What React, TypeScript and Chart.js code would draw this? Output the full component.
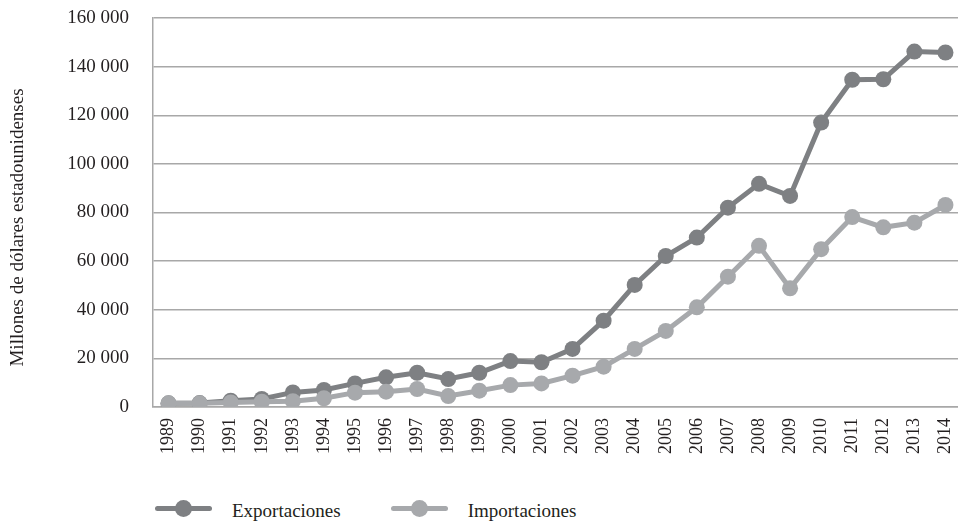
import React, { useEffect, useRef } from "react";
import { Chart, registerables } from "chart.js";

Chart.register(...registerables);

const years = [
  "1989", "1990", "1991", "1992", "1993", "1994", "1995", "1996", "1997",
  "1998", "1999", "2000", "2001", "2002", "2003", "2004", "2005", "2006",
  "2007", "2008", "2009", "2010", "2011", "2012", "2013", "2014",
];

const exportaciones = [
  1500, 1600, 2600, 3300, 6000, 7000, 9700, 12200, 14100, 11500, 14100,
  18900, 18400, 23900, 35500, 50200, 62100, 69700, 82000, 91800, 86800,
  117000, 134600, 134800, 146200, 145800,
];

const importaciones = [
  1500, 1500, 1900, 2200, 2400, 3600, 5900, 6300, 7400, 4500, 6700, 9000,
  9700, 12900, 16600, 23900, 31300, 41000, 53600, 66300, 48800, 64900,
  78100, 73900, 75800, 83100,
];

const yTitle = "Millones de dólares estadounidenses";
const seriesNames = ["Exportaciones", "Importaciones"];

const DARK = "rgb(126,128,131)";
const LIGHT = "rgb(167,169,172)";
const GRID = "rgb(168,168,168)";
const TEXT = "#231f20";
const FONT = "'Liberation Serif', 'DejaVu Serif', serif";

const fmt = (v: number) =>
  String(v).replace(/\B(?=(\d{3})+(?!\d))/g, " ");

const yTitlePlugin = {
  id: "yTitlePlugin",
  afterDraw(chart: any) {
    const { ctx, chartArea } = chart;
    ctx.save();
    ctx.translate(10, (chartArea.top + chartArea.bottom) / 2 + 15);
    ctx.rotate(-Math.PI / 2);
    ctx.font = `19px ${FONT}`;
    ctx.fillStyle = TEXT;
    ctx.textAlign = "center";
    ctx.textBaseline = "middle";
    ctx.fillText(yTitle, 0, 0);
    ctx.restore();
  },
};

function LegendItem({ color, label }: { color: string; label: string }) {
  return (
    <div style={{ display: "flex", alignItems: "center" }}>
      <div style={{ position: "relative", width: 57, height: 17, top: -3 }}>
        <div
          style={{
            position: "absolute",
            left: 0,
            right: 0,
            top: 6,
            height: 5,
            background: color,
            borderRadius: 2.5,
          }}
        />
        <div
          style={{
            position: "absolute",
            left: 20,
            top: 0,
            width: 17,
            height: 17,
            borderRadius: 8.5,
            background: color,
          }}
        />
      </div>
      <span
        style={{
          marginLeft: 20,
          fontFamily: FONT,
          fontSize: 19,
          color: TEXT,
          whiteSpace: "nowrap",
        }}
      >
        {label}
      </span>
    </div>
  );
}

export default function App() {
  const ref = useRef<HTMLCanvasElement | null>(null);

  useEffect(() => {
    if (!ref.current) return;
    const chart = new Chart(ref.current, {
      type: "line",
      data: {
        labels: years,
        datasets: [
          {
            label: seriesNames[0],
            data: exportaciones,
            borderColor: DARK,
            backgroundColor: DARK,
            pointBackgroundColor: DARK,
            pointBorderColor: DARK,
            borderWidth: 5,
            pointRadius: 8,
            pointBorderWidth: 0,
            tension: 0,
            order: 1,
          },
          {
            label: seriesNames[1],
            data: importaciones,
            borderColor: LIGHT,
            backgroundColor: LIGHT,
            pointBackgroundColor: LIGHT,
            pointBorderColor: LIGHT,
            borderWidth: 5,
            pointRadius: 8,
            pointBorderWidth: 0,
            tension: 0,
            order: 0,
          },
        ],
      },
      options: {
        animation: false,
        responsive: true,
        maintainAspectRatio: false,
        layout: { padding: { left: 53, right: 0, top: 0, bottom: 11 } },
        plugins: {
          legend: { display: false },
          tooltip: { enabled: false },
        },
        scales: {
          x: {
            offset: true,
            grid: { display: false, drawTicks: false },
            border: { display: true, color: GRID, width: 1.5 },
            ticks: {
              minRotation: 90,
              maxRotation: 90,
              autoSkip: false,
              padding: 11,
              color: TEXT,
              font: { family: FONT, size: 18 },
            },
            afterFit: (s: any) => {
              s.height = 60;
              s.paddingLeft = 0;
              s.paddingRight = 0;
            },
          },
          y: {
            min: 0,
            max: 160000,
            grid: { color: GRID, lineWidth: 1.5, drawTicks: false },
            border: { display: true, color: GRID, width: 1.5 },
            ticks: {
              stepSize: 20000,
              padding: 24,
              color: TEXT,
              font: { family: FONT, size: 19 },
              callback: (v: any) => fmt(Number(v)),
            },
            afterFit: (s: any) => {
              s.width = 92;
              s.paddingTop = 10;
              s.paddingBottom = 0;
            },
          },
        },
      },
      plugins: [yTitlePlugin],
    });
    return () => chart.destroy();
  }, []);

  return (
    <div
      style={{
        position: "relative",
        width: 958,
        height: 514,
        overflow: "hidden",
      }}
    >
      <div style={{ position: "absolute", left: 0, top: 0, width: 961, height: 470 }}>
        <canvas ref={ref} />
      </div>
      <div
        style={{
          position: "absolute",
          left: 147,
          top: 492,
          display: "flex",
          alignItems: "center",
          gap: 50,
        }}
      >
        <LegendItem color={DARK} label={seriesNames[0]} />
        <LegendItem color={LIGHT} label={seriesNames[1]} />
      </div>
    </div>
  );
}
